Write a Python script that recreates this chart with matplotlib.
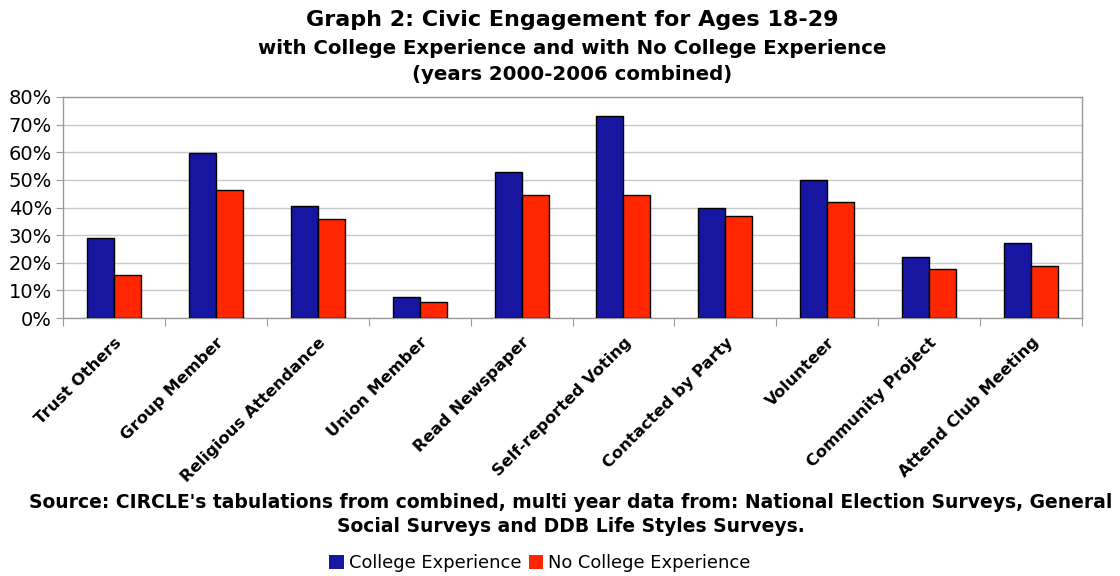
import matplotlib
matplotlib.use("Agg")
import matplotlib.pyplot as plt
from matplotlib.patches import Patch
from matplotlib.ticker import FixedLocator, PercentFormatter
import numpy as np

categories = [
    "Trust Others", "Group Member", "Religious Attendance", "Union Member",
    "Read Newspaper", "Self-reported Voting", "Contacted by Party",
    "Volunteer", "Community Project", "Attend Club Meeting",
]
college = [29.1, 59.6, 40.7, 7.5, 52.8, 73.0, 40.0, 50.1, 22.0, 27.1]
no_college = [15.5, 46.3, 35.7, 5.8, 44.6, 44.6, 37.1, 42.0, 17.9, 19.0]
series_names = ["College Experience", "No College Experience"]
y_ticks = [0, 10, 20, 30, 40, 50, 60, 70, 80]

BLUE = "#1616a0"
RED = "#ff2600"
GRID = "#c8c8c8"
FRAME = "#9a9a9a"

plt.rcParams["font.family"] = ["DejaVu Sans"]

fig = plt.figure(figsize=(11.2, 5.76), dpi=100)
ax = fig.add_axes([63 / 1120, 1 - 318 / 576, (1082 - 63) / 1120, (318 - 97) / 576])

x = np.arange(len(categories))
w = 0.265
ax.bar(x - w / 2, college, w, color=BLUE, edgecolor="black", linewidth=1.0, zorder=3)
ax.bar(x + w / 2, no_college, w, color=RED, edgecolor="black", linewidth=1.0, zorder=3)

ax.set_xlim(-0.5, len(categories) - 0.5)
ax.set_ylim(0, 80)
ax.set_yticks(y_ticks)
ax.yaxis.set_major_formatter(PercentFormatter(decimals=0))
ax.grid(axis="y", color=GRID, linewidth=1.0, zorder=0)
ax.set_axisbelow(True)

# category boundaries get the tick marks, category centres carry the labels
ax.xaxis.set_major_locator(FixedLocator(np.arange(-0.5, len(categories), 1.0)))
ax.xaxis.set_major_formatter(plt.NullFormatter())
ax.xaxis.set_minor_locator(FixedLocator(x))
ax.set_xticklabels(categories, minor=True)
ax.tick_params(axis="x", which="major", length=6, color=FRAME, direction="out")
ax.tick_params(axis="x", which="minor", length=0, pad=12)
for lbl in ax.get_xticklabels(minor=True):
    lbl.set_rotation(45)
    lbl.set_ha("right")
    lbl.set_va("top")
    lbl.set_rotation_mode("anchor")
    lbl.set_fontweight("bold")
    lbl.set_fontsize(11.8)

ax.tick_params(axis="y", length=5, color=FRAME, labelsize=14, pad=3)
for s in ax.spines.values():
    s.set_color(FRAME)
    s.set_linewidth(1.0)

title_x = 572 / 1120
fig.text(title_x, 1 - 20 / 576, "Graph 2: Civic Engagement for Ages 18-29",
         ha="center", va="center", fontsize=16, fontweight="bold")
fig.text(title_x, 1 - 49 / 576, "with College Experience and with No College Experience",
         ha="center", va="center", fontsize=14.2, fontweight="bold")
fig.text(title_x, 1 - 75 / 576, "(years 2000-2006 combined)",
         ha="center", va="center", fontsize=14.2, fontweight="bold")

fig.text(571 / 1120, 1 - 502 / 576,
         "Source: CIRCLE's tabulations from combined, multi year data from: National Election Surveys, General",
         ha="center", va="center", fontsize=13.5, fontweight="bold")
fig.text(571 / 1120, 1 - 527 / 576, "Social Surveys and DDB Life Styles Surveys.",
         ha="center", va="center", fontsize=13.5, fontweight="bold")

handles = [Patch(facecolor=BLUE, edgecolor="none"), Patch(facecolor=RED, edgecolor="none")]
fig.legend(handles, series_names, loc="center", bbox_to_anchor=(540 / 1120, 1 - 563 / 576),
           ncol=2, frameon=False, fontsize=12.9, handlelength=0.8, handleheight=0.8,
           handletextpad=0.3, columnspacing=0.4)

fig.savefig("out.png", dpi=100)
